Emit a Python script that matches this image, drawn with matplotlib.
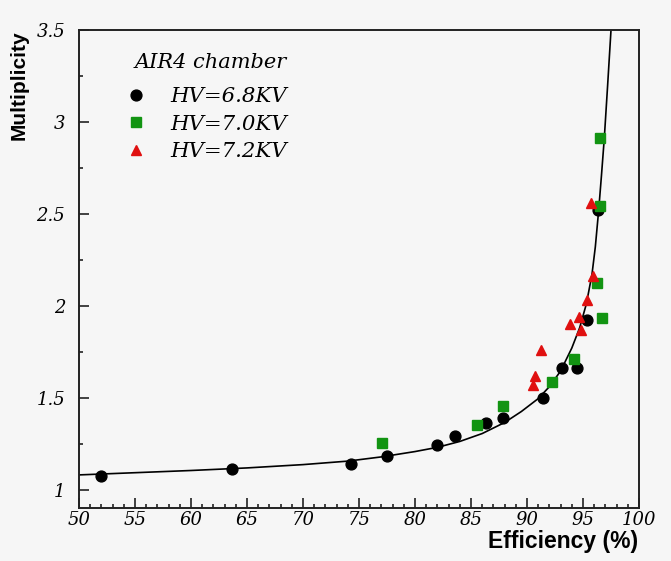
import numpy as np
import matplotlib
matplotlib.use("Agg")
import matplotlib.pyplot as plt
from matplotlib.ticker import MultipleLocator

# data
eff_68 = [52.0, 63.7, 74.3, 77.5, 82.0, 83.6, 86.3, 87.9, 91.4, 93.1, 94.5, 95.4, 96.3]
mult_68 = [1.076, 1.114, 1.14, 1.185, 1.24, 1.29, 1.36, 1.39, 1.50, 1.66, 1.66, 1.92, 2.52]

eff_70 = [77.05, 85.5, 87.9, 92.2, 94.2, 96.25, 96.7, 96.5, 96.5]
mult_70 = [1.255, 1.35, 1.457, 1.587, 1.71, 2.125, 1.935, 2.91, 2.54]

eff_72 = [90.5, 90.7, 91.25, 93.8, 94.6, 94.8, 95.4, 95.9, 95.7]
mult_72 = [1.57, 1.62, 1.76, 1.90, 1.94, 1.87, 2.03, 2.16, 2.56]

# fitted curve
fit_eff = [50, 55, 60, 65, 70, 74, 77, 80, 82, 84, 86, 88, 89.5, 91, 92, 93, 94,
           94.7, 95.3, 95.8, 96.1, 96.4, 96.65, 96.9, 97.2, 97.5]
fit_mult = [1.080, 1.092, 1.104, 1.118, 1.136, 1.155, 1.178, 1.207, 1.230, 1.262,
            1.305, 1.365, 1.425, 1.495, 1.56, 1.645, 1.77, 1.88, 2.01, 2.17, 2.32,
            2.52, 2.71, 2.91, 3.2, 3.5]

xticks = [50, 55, 60, 65, 70, 75, 80, 85, 90, 95, 100]
xtick_labels = ["50", "55", "60", "65", "70", "75", "80", "85", "90", "95", "100"]
yticks = [1, 1.5, 2, 2.5, 3, 3.5]
ytick_labels = ["1", "1.5", "2", "2.5", "3", "3.5"]

bg = "#f6f6f6"
serif_it = {"family": "DejaVu Serif", "style": "italic"}

fig = plt.figure(figsize=(6.71, 5.61), dpi=100, facecolor=bg)
ax = fig.add_axes([79 / 671, 53 / 561, 560 / 671, 478 / 561], facecolor=bg)

ax.plot(fit_eff, fit_mult, color="black", lw=1.2, zorder=2)
ax.plot(eff_68, mult_68, "o", color="black", ms=7.8, ls="none", label="HV=6.8KV", zorder=3)
ax.plot(eff_70, mult_70, "s", color="#129412", ms=6.5, ls="none", label="HV=7.0KV", zorder=3)
ax.plot(eff_72, mult_72, "^", color="#e01010", ms=7, ls="none", label="HV=7.2KV", zorder=4)

ax.set_xlim(50, 100)
ax.set_ylim(0.9, 3.5)
ax.xaxis.set_minor_locator(MultipleLocator(1))
ax.yaxis.set_minor_locator(MultipleLocator(0.25))
ax.tick_params(which="both", direction="in", top=False, right=False, width=1.2, color="#222222")
ax.tick_params(which="major", length=7)
ax.tick_params(which="minor", length=3)
ax.tick_params(axis="x", pad=2.5)
ax.tick_params(axis="y", pad=10)
ax.set_xticks(xticks)
ax.set_xticklabels(xtick_labels, fontdict=dict(serif_it, size=13))
ax.set_yticks(yticks)
ax.set_yticklabels(ytick_labels, fontdict=dict(serif_it, size=13))
for s in ax.spines.values():
    s.set_linewidth(1.4)
    s.set_color("#222222")

fig.text(638 / 671, 1 - 548 / 561, "Efficiency (%)", ha="right", va="baseline",
         family="Liberation Sans", weight="bold", size=16.5)
fig.text(19 / 671, 1 - 30 / 561, "Multiplicity", ha="center", va="top", rotation=90,
         family="Liberation Sans", weight="bold", size=15)

fig.text(135 / 671, 1 - 62 / 561, "AIR4 chamber", ha="left", va="center",
         family="DejaVu Serif", style="italic", size=15)
leg = ax.legend(loc="upper left", bbox_to_anchor=(135 / 671, 1 - 87 / 561),
                bbox_transform=fig.transFigure, frameon=False,
                prop=dict(serif_it, size=15.3),
                handlelength=0.1, handletextpad=1.55, labelspacing=0.4,
                borderpad=0, borderaxespad=0)

fig.savefig("out.png", dpi=100, facecolor=bg)
